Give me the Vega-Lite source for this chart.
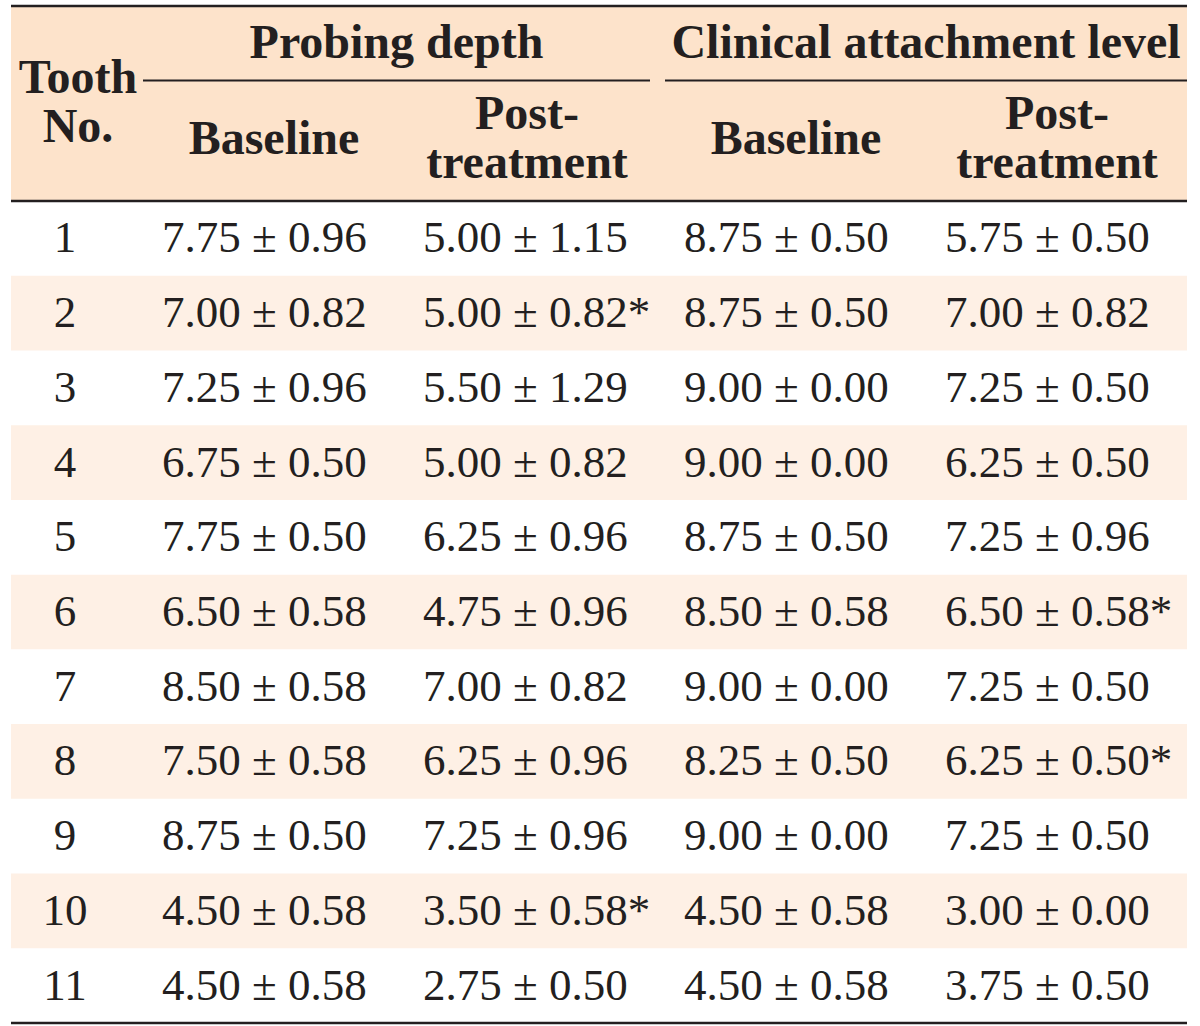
{
  "$schema": "https://vega.github.io/schema/vega-lite/v6.json",
  "padding": {"left": 11, "right": 13, "top": 4, "bottom": 5},
  "spacing": 0,
  "bounds": "flush",
  "config": {
    "view": {"stroke": null},
    "text": {"font": "Liberation Serif", "color": "#231f20"}
  },
  "vconcat": [
    {
      "width": 1176,
      "height": 195,
      "data": {"values": [
        {"label": "Tooth\nNo.", "tier": "span", "col": "tooth"},
        {"label": "Probing depth", "tier": "group", "col": "pd_base"},
        {"label": "Clinical attachment level", "tier": "group", "col": "cal_base"},
        {"label": "Baseline", "tier": "sub", "col": "pd_base"},
        {"label": "Post-\ntreatment", "tier": "sub", "col": "pd_post"},
        {"label": "Baseline", "tier": "sub", "col": "cal_base"},
        {"label": "Post-\ntreatment", "tier": "sub", "col": "cal_post"}
      ]},
      "resolve": {"scale": {"x": "independent", "y": "independent"}},
      "layer": [
        {
          "transform": [{"filter": "datum.tier == 'span'"}],
          "mark": {"type": "bar", "fill": "#fde3cb"},
          "encoding": {"x": {"value": 0}, "x2": {"value": 1176}, "y": {"value": 0}, "y2": {"value": 195}}
        },
        {
          "transform": [{"filter": "datum.tier == 'span'"}],
          "mark": {"type": "tick", "orient": "horizontal", "color": "#231f20", "opacity": 1, "size": 1176, "thickness": 2.5, "yOffset": -97.5},
          "encoding": {
            "y": {"field": "tier", "type": "nominal", "scale": {"domain": ["group", "span", "sub"], "paddingInner": 0, "paddingOuter": 0}, "axis": null}
          }
        },
        {
          "transform": [{"filter": "datum.tier == 'group' && datum.col == 'pd_base'"}],
          "mark": {"type": "tick", "orient": "horizontal", "color": "#231f20", "opacity": 1, "size": 507, "thickness": 2, "xOffset": 91.5, "yOffset": 42},
          "encoding": {
            "x": {"field": "col", "type": "nominal", "scale": {"domain": ["pd_base", "cal_base"], "paddingInner": 0, "paddingOuter": 0}, "axis": null},
            "y": {"field": "tier", "type": "nominal", "scale": {"domain": ["group", "span", "sub"], "paddingInner": 0, "paddingOuter": 0}, "axis": null}
          }
        },
        {
          "transform": [{"filter": "datum.tier == 'group' && datum.col == 'cal_base'"}],
          "mark": {"type": "tick", "orient": "horizontal", "color": "#231f20", "opacity": 1, "size": 522, "thickness": 2, "xOffset": 33, "yOffset": 42},
          "encoding": {
            "x": {"field": "col", "type": "nominal", "scale": {"domain": ["pd_base", "cal_base"], "paddingInner": 0, "paddingOuter": 0}, "axis": null},
            "y": {"field": "tier", "type": "nominal", "scale": {"domain": ["group", "span", "sub"], "paddingInner": 0, "paddingOuter": 0}, "axis": null}
          }
        },
        {
          "transform": [{"filter": "datum.tier == 'span'"}],
          "mark": {"type": "text", "font": "Liberation Serif", "fontWeight": "bold", "fontSize": 48, "lineHeight": 49, "lineBreak": "\n", "align": "center", "baseline": "middle", "dx": 1, "dy": -25},
          "encoding": {
            "x": {"field": "col", "type": "nominal", "scale": {"domain": ["tooth", "pd_base", "pd_post", "cal_base", "cal_post"], "padding": 0.2529}, "axis": null},
            "y": {"field": "tier", "type": "nominal", "scale": {"domain": ["group", "span", "sub"], "padding": 1.01}, "axis": null},
            "text": {"field": "label", "type": "nominal"}
          }
        },
        {
          "transform": [{"filter": "datum.tier == 'group' && datum.col == 'pd_base'"}],
          "mark": {"type": "text", "font": "Liberation Serif", "fontWeight": "bold", "fontSize": 48, "align": "center", "baseline": "middle", "dx": 58.5, "dy": -11},
          "encoding": {
            "x": {"field": "col", "type": "nominal", "scale": {"domain": ["tooth", "pd_base", "pd_post", "cal_base", "cal_post"], "padding": 0.2529}, "axis": null},
            "y": {"field": "tier", "type": "nominal", "scale": {"domain": ["group", "span", "sub"], "padding": 1.01}, "axis": null},
            "text": {"field": "label", "type": "nominal"}
          }
        },
        {
          "transform": [{"filter": "datum.tier == 'group' && datum.col == 'cal_base'"}],
          "mark": {"type": "text", "font": "Liberation Serif", "fontWeight": "bold", "fontSize": 48, "align": "center", "baseline": "middle", "dx": 66, "dy": -11},
          "encoding": {
            "x": {"field": "col", "type": "nominal", "scale": {"domain": ["tooth", "pd_base", "pd_post", "cal_base", "cal_post"], "padding": 0.2529}, "axis": null},
            "y": {"field": "tier", "type": "nominal", "scale": {"domain": ["group", "span", "sub"], "padding": 1.01}, "axis": null},
            "text": {"field": "label", "type": "nominal"}
          }
        },
        {
          "transform": [{"filter": "datum.tier == 'sub' && (datum.col == 'pd_base' || datum.col == 'cal_base')"}],
          "mark": {"type": "text", "font": "Liberation Serif", "fontWeight": "bold", "fontSize": 48, "align": "center", "baseline": "middle", "dx": -64, "dy": -12},
          "encoding": {
            "x": {"field": "col", "type": "nominal", "scale": {"domain": ["tooth", "pd_base", "pd_post", "cal_base", "cal_post"], "padding": 0.2529}, "axis": null},
            "y": {"field": "tier", "type": "nominal", "scale": {"domain": ["group", "span", "sub"], "padding": 1.01}, "axis": null},
            "text": {"field": "label", "type": "nominal"}
          }
        },
        {
          "transform": [{"filter": "datum.tier == 'sub' && datum.col == 'pd_post'"}],
          "mark": {"type": "text", "font": "Liberation Serif", "fontWeight": "bold", "fontSize": 48, "lineHeight": 49, "lineBreak": "\n", "align": "center", "baseline": "middle", "dx": -72, "dy": -37},
          "encoding": {
            "x": {"field": "col", "type": "nominal", "scale": {"domain": ["tooth", "pd_base", "pd_post", "cal_base", "cal_post"], "padding": 0.2529}, "axis": null},
            "y": {"field": "tier", "type": "nominal", "scale": {"domain": ["group", "span", "sub"], "padding": 1.01}, "axis": null},
            "text": {"field": "label", "type": "nominal"}
          }
        },
        {
          "transform": [{"filter": "datum.tier == 'sub' && datum.col == 'cal_post'"}],
          "mark": {"type": "text", "font": "Liberation Serif", "fontWeight": "bold", "fontSize": 48, "lineHeight": 49, "lineBreak": "\n", "align": "center", "baseline": "middle", "dx": -64, "dy": -37},
          "encoding": {
            "x": {"field": "col", "type": "nominal", "scale": {"domain": ["tooth", "pd_base", "pd_post", "cal_base", "cal_post"], "padding": 0.2529}, "axis": null},
            "y": {"field": "tier", "type": "nominal", "scale": {"domain": ["group", "span", "sub"], "padding": 1.01}, "axis": null},
            "text": {"field": "label", "type": "nominal"}
          }
        }
      ]
    },
    {
      "width": 1176,
      "height": 822,
      "data": {"values": [
        {"tooth": 1, "pd_base": "7.75 ± 0.96", "pd_post": "5.00 ± 1.15", "cal_base": "8.75 ± 0.50", "cal_post": "5.75 ± 0.50"},
        {"tooth": 2, "pd_base": "7.00 ± 0.82", "pd_post": "5.00 ± 0.82*", "cal_base": "8.75 ± 0.50", "cal_post": "7.00 ± 0.82"},
        {"tooth": 3, "pd_base": "7.25 ± 0.96", "pd_post": "5.50 ± 1.29", "cal_base": "9.00 ± 0.00", "cal_post": "7.25 ± 0.50"},
        {"tooth": 4, "pd_base": "6.75 ± 0.50", "pd_post": "5.00 ± 0.82", "cal_base": "9.00 ± 0.00", "cal_post": "6.25 ± 0.50"},
        {"tooth": 5, "pd_base": "7.75 ± 0.50", "pd_post": "6.25 ± 0.96", "cal_base": "8.75 ± 0.50", "cal_post": "7.25 ± 0.96"},
        {"tooth": 6, "pd_base": "6.50 ± 0.58", "pd_post": "4.75 ± 0.96", "cal_base": "8.50 ± 0.58", "cal_post": "6.50 ± 0.58*"},
        {"tooth": 7, "pd_base": "8.50 ± 0.58", "pd_post": "7.00 ± 0.82", "cal_base": "9.00 ± 0.00", "cal_post": "7.25 ± 0.50"},
        {"tooth": 8, "pd_base": "7.50 ± 0.58", "pd_post": "6.25 ± 0.96", "cal_base": "8.25 ± 0.50", "cal_post": "6.25 ± 0.50*"},
        {"tooth": 9, "pd_base": "8.75 ± 0.50", "pd_post": "7.25 ± 0.96", "cal_base": "9.00 ± 0.00", "cal_post": "7.25 ± 0.50"},
        {"tooth": 10, "pd_base": "4.50 ± 0.58", "pd_post": "3.50 ± 0.58*", "cal_base": "4.50 ± 0.58", "cal_post": "3.00 ± 0.00"},
        {"tooth": 11, "pd_base": "4.50 ± 0.58", "pd_post": "2.75 ± 0.50", "cal_base": "4.50 ± 0.58", "cal_post": "3.75 ± 0.50"}
      ]},
      "transform": [{"fold": ["tooth", "pd_base", "pd_post", "cal_base", "cal_post"], "as": ["key", "value"]}],
      "encoding": {
        "y": {"field": "tooth", "type": "ordinal",
              "scale": {"domain": [1, 2, 3, 4, 5, 6, 7, 8, 9, 10, 11], "paddingInner": 0, "paddingOuter": 0},
              "axis": null},
        "x": {"field": "key", "type": "nominal",
              "scale": {"domain": ["tooth", "pd_base", "pd_post", "cal_base", "cal_post"], "padding": 0.2529},
              "axis": null}
      },
      "layer": [
        {
          "transform": [{"filter": "datum.key == 'tooth' && datum.tooth % 2 == 0"}],
          "mark": {"type": "bar", "fill": "#fef0e5"},
          "encoding": {"x": {"value": 0}, "x2": {"value": 1176}}
        },
        {
          "transform": [{"filter": "datum.key == 'tooth' && datum.tooth == 1"}],
          "mark": {"type": "bar", "fill": "#231f20", "height": 2.5, "yOffset": -37.36},
          "encoding": {"x": {"value": 0}, "x2": {"value": 1176}}
        },
        {
          "transform": [{"filter": "datum.key == 'tooth' && datum.tooth == 11"}],
          "mark": {"type": "bar", "fill": "#231f20", "height": 2.5, "yOffset": 37.36},
          "encoding": {"x": {"value": 0}, "x2": {"value": 1176}}
        },
        {
          "transform": [{"filter": "datum.key == 'tooth'"}],
          "mark": {"type": "text", "fontSize": 45, "align": "center", "baseline": "middle", "dx": -12, "dy": 0},
          "encoding": {"text": {"field": "tooth", "type": "ordinal"}}
        },
        {
          "transform": [{"filter": "datum.key != 'tooth'"}],
          "mark": {"type": "text", "fontSize": 45, "align": "left", "baseline": "middle", "dx": -176, "dy": 0},
          "encoding": {"text": {"field": "value", "type": "nominal"}}
        }
      ]
    }
  ]
}
